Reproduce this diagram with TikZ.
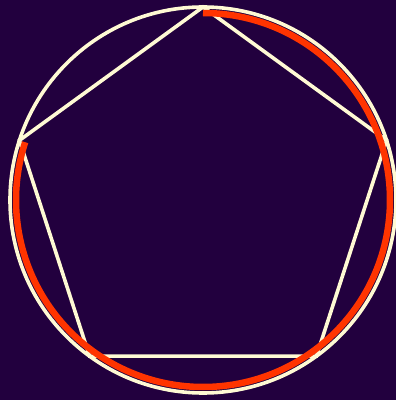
\documentclass[tikz,border=0pt]{standalone}
\usetikzlibrary{calc}
\definecolor{bgpurple}{RGB}{34,0,62}
\definecolor{cream}{RGB}{255,250,212}
\definecolor{redarc}{RGB}{255,52,0}
\begin{document}
\begin{tikzpicture}[x=1pt,y=1pt,
  creamline/.style={draw=cream,line width=3.6pt},
  redline/.style={draw=redarc,line width=6.5pt,line cap=butt}]
\fill[bgpurple] (0,0) rectangle (396,400);
\useasboundingbox (0,0) rectangle (396,400);
\coordinate (c) at (203,200);
\foreach \i/\a in {1/90,2/18,3/-54,4/-126,5/162}{
  \coordinate (v\i) at ($(c)+(\a:193)$);
}
\draw[creamline] (c) circle (193);
\draw[creamline,line join=miter] (v1) -- (v2) -- (v3) -- (v4) -- (v5) -- cycle;
\draw[redline] ($(c)+(90:187)$) arc[start angle=90,end angle=-198,radius=187];
\end{tikzpicture}
\end{document}
